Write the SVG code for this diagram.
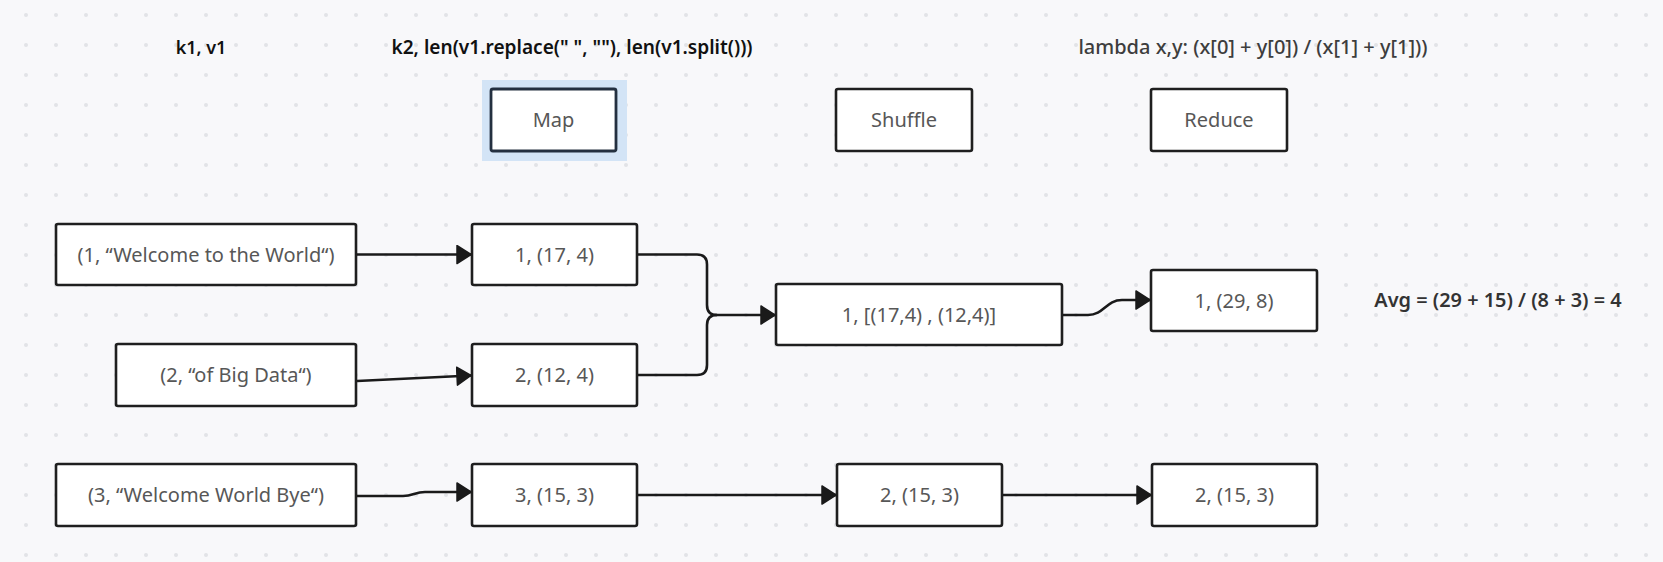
<svg xmlns="http://www.w3.org/2000/svg" width="1663" height="562" viewBox="0 0 1663 562">
<defs>
<pattern id="dots" x="0" y="0" width="30" height="30" patternUnits="userSpaceOnUse">
<circle cx="26" cy="15" r="2" fill="#e2e3e7"/>
</pattern>
<marker id="arr" markerUnits="userSpaceOnUse" markerWidth="16" markerHeight="20" refX="15" refY="10" orient="auto" viewBox="0 0 16 20">
<path d="M1,1 L15,10 L1,19 Z" fill="#1a1a1a" stroke="#1a1a1a" stroke-width="1.5" stroke-linejoin="round"/>
</marker>
<style>
.box{fill:#ffffff;stroke:#1f1f1f;stroke-width:2.6}
.sel{fill:#ffffff;stroke:#243040;stroke-width:2.8}
.t{font-family:"Noto Sans","Open Sans",sans-serif;font-size:20px;fill:#575757;text-anchor:middle}
.h{font-family:"Noto Sans","Open Sans",sans-serif;font-size:19.1px;fill:#111111;font-weight:600;text-anchor:middle}
.k{font-family:"Noto Sans","Open Sans",sans-serif;font-size:18px;fill:#111111;font-weight:600;text-anchor:middle}
.hg{font-family:"Noto Sans","Open Sans",sans-serif;font-size:20px;fill:#3d3d3d;font-weight:500;text-anchor:middle}
.a{font-family:"Noto Sans","Open Sans",sans-serif;font-size:19.9px;fill:#333333;font-weight:600;text-anchor:middle}
.c{fill:none;stroke:#1a1a1a;stroke-width:2.6;marker-end:url(#arr)}
.cn{fill:none;stroke:#1a1a1a;stroke-width:2.6}
</style>
</defs>
<rect width="1663" height="562" fill="#f8f8fa"/>
<rect width="1663" height="562" fill="url(#dots)"/>

<g id="labels">
<text class="k" x="201" y="54">k1, v1</text>
<text class="h" x="572" y="54">k2, len(v1.replace(" ", ""), len(v1.split()))</text>
<text class="hg" x="1253" y="54">lambda x,y: (x[0] + y[0]) / (x[1] + y[1]))</text>
</g>

<g id="map">
<rect x="482" y="80" width="145" height="81" fill="#d3e4f6"/>
<rect class="sel" x="491" y="89" width="125" height="62" rx="2"/>
<text class="t" x="553.5" y="127">Map</text>
</g>
<g id="shuffle">
<rect class="box" x="836" y="89" width="136" height="62" rx="2"/>
<text class="t" x="904" y="127">Shuffle</text>
</g>
<g id="reduce">
<rect class="box" x="1151" y="89" width="136" height="62" rx="2"/>
<text class="t" x="1219" y="127">Reduce</text>
</g>

<g id="in1">
<rect class="box" x="56" y="224" width="300" height="61" rx="2"/>
<text class="t" x="206" y="261.5">(1, “Welcome to the World“)</text>
</g>
<g id="in2">
<rect class="box" x="116" y="344" width="240" height="62" rx="2"/>
<text class="t" x="236" y="382">(2, “of Big Data“)</text>
</g>
<g id="in3">
<rect class="box" x="56" y="464" width="300" height="62" rx="2"/>
<text class="t" x="206" y="502">(3, “Welcome World Bye“)</text>
</g>

<g id="m1">
<rect class="box" x="472" y="224" width="165" height="61" rx="2"/>
<text class="t" x="554.5" y="261.5">1, (17, 4)</text>
</g>
<g id="m2">
<rect class="box" x="472" y="344" width="165" height="62" rx="2"/>
<text class="t" x="554.5" y="382">2, (12, 4)</text>
</g>
<g id="m3">
<rect class="box" x="472" y="464" width="165" height="62" rx="2"/>
<text class="t" x="554.5" y="502">3, (15, 3)</text>
</g>

<g id="s1">
<rect class="box" x="776" y="284" width="286" height="61" rx="2"/>
<text class="t" x="919" y="321.5">1, [(17,4) , (12,4)]</text>
</g>
<g id="s2">
<rect class="box" x="837" y="464" width="165" height="62" rx="2"/>
<text class="t" x="919.5" y="502">2, (15, 3)</text>
</g>

<g id="r1">
<rect class="box" x="1151" y="270" width="166" height="61" rx="2"/>
<text class="t" x="1234" y="307.5">1, (29, 8)</text>
</g>
<g id="r2">
<rect class="box" x="1152" y="464" width="165" height="62" rx="2"/>
<text class="t" x="1234.5" y="502">2, (15, 3)</text>
</g>

<g id="avg">
<text class="a" x="1498" y="307">Avg = (29 + 15) / (8 + 3) = 4</text>
</g>

<g id="connectors">
<path class="c" d="M357,254.5 H471"/>
<path class="c" d="M357,381 L471,375.5"/>
<path class="c" d="M357,496 H403 C413,496 415,492 425,492 H471"/>
<path class="cn" d="M638,254.5 H697 Q707,254.5 707,264.5 V305 Q707,315 717,315"/>
<path class="c" d="M638,375 H697 Q707,375 707,365 V325 Q707,315 717,315 H775"/>
<path class="c" d="M1063,315 H1088 C1104,315 1106,300 1122,300 H1150"/>
<path class="c" d="M638,495 H836"/>
<path class="c" d="M1003,495 H1151"/>
</g>
</svg>
